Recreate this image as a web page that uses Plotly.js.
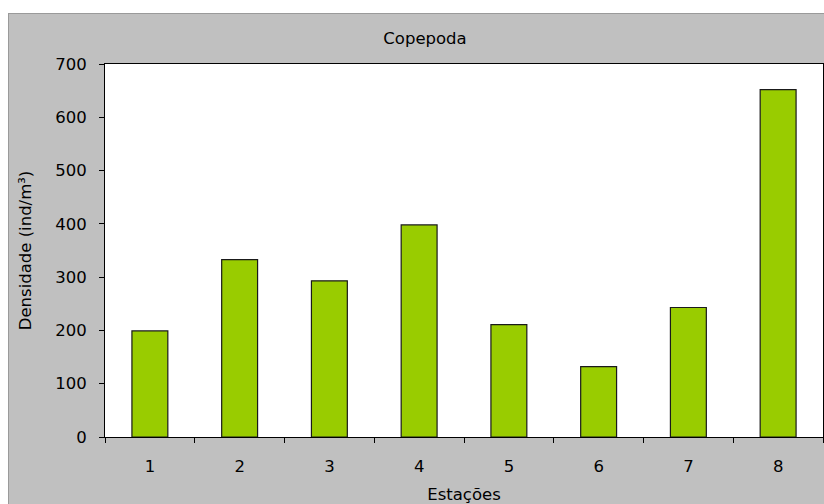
<!DOCTYPE html>
<html>
<head>
<meta charset="utf-8">
<script src="https://cdn.plot.ly/plotly-3.0.1.min.js"></script>
<style>
html, body { margin: 0; padding: 0; overflow: hidden; background: #ffffff; width: 824px; height: 504px; }
#frame { position: absolute; left: 8px; top: 13px; width: 834px; height: 500px; background: #c0c0c0; border: 1px solid #9a9a9a; }
#chart { position: absolute; left: 0px; top: 0px; }
</style>
</head>
<body>
<div id="frame"><div id="chart"></div></div>
<script>
const estacoes = ["1", "2", "3", "4", "5", "6", "7", "8"];
const densidade = [199, 333, 293, 398, 211, 132, 243, 652];
const yTicks = [0, 100, 200, 300, 400, 500, 600, 700];

const font = "'DejaVu Sans', Verdana, sans-serif";
const fs = 16.5;

Plotly.newPlot("chart", [{
  type: "bar",
  x: estacoes,
  y: densidade,
  width: 0.4,
  marker: { color: "#99cc00", line: { color: "#1a1a1a", width: 1.2 } },
  hoverinfo: "x+y"
}], {
  width: 815,
  height: 490,
  margin: { l: 96, r: 1, t: 50, b: 67, pad: 0 },
  paper_bgcolor: "#c0c0c0",
  plot_bgcolor: "#ffffff",
  showlegend: false,
  font: { family: font, size: fs, color: "#000000" },
  title: { text: "Copepoda", x: 416 / 815, xref: "container", xanchor: "center", y: 1 - 24.5 / 490, yref: "container", yanchor: "middle", font: { family: font, size: fs, color: "#000" } },
  xaxis: {
    type: "category",
    showline: true, linecolor: "#000", linewidth: 1, mirror: true,
    ticks: "outside", tickson: "boundaries", ticklen: 5, tickcolor: "#000", tickwidth: 1,
    ticklabelstandoff: 14,
    showgrid: false, zeroline: false,
    tickfont: { family: font, size: fs, color: "#000" },
    title: { text: "Estações", standoff: 20, font: { family: font, size: fs, color: "#000" } }
  },
  yaxis: {
    range: [0, 700],
    tickvals: yTicks,
    ticktext: yTicks.map(String),
    showline: true, linecolor: "#000", linewidth: 1, mirror: true,
    ticks: "outside", ticklen: 5, tickcolor: "#000", tickwidth: 1,
    ticklabelstandoff: 9,
    showgrid: false, zeroline: false,
    tickfont: { family: font, size: fs, color: "#000" },
    title: { text: "Densidade (ind/m³)", standoff: 19, font: { family: font, size: fs, color: "#000" } }
  }
}, { displayModeBar: false, staticPlot: true });
</script>
</body>
</html>
